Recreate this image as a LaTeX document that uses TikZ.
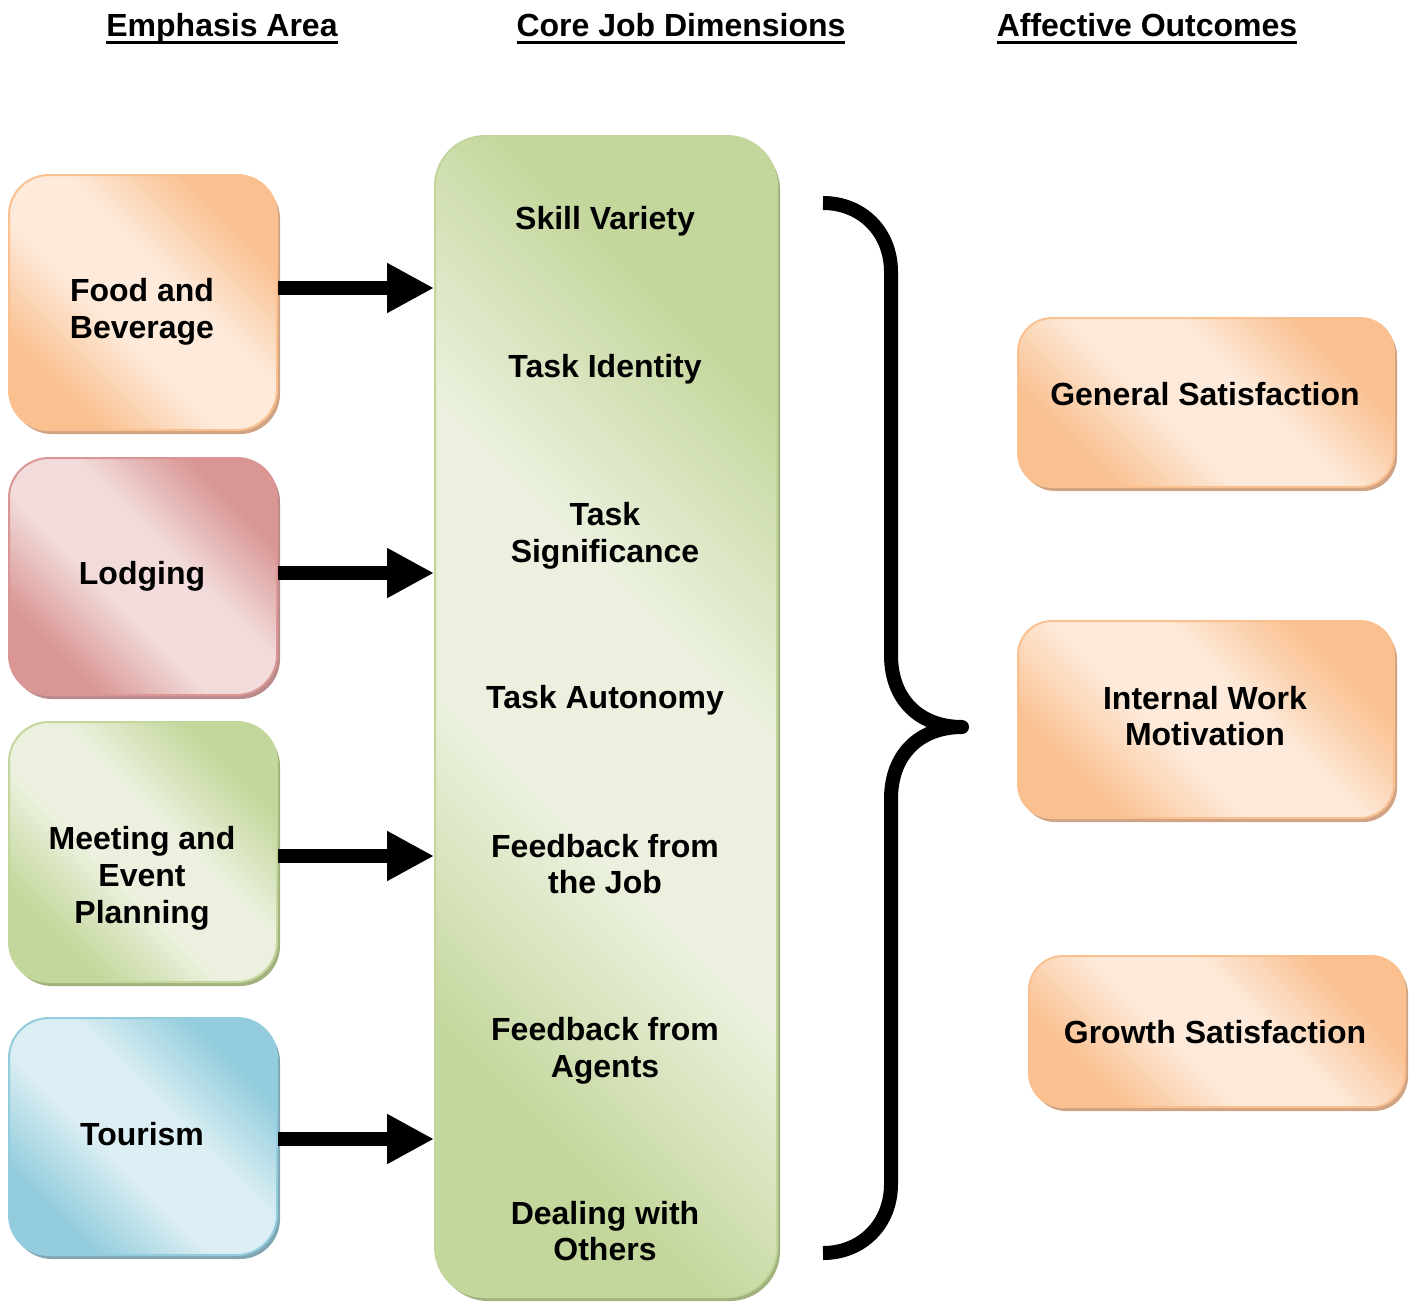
\documentclass[tikz,border=0pt]{standalone}
\usepackage{fontspec}
\setmainfont{Liberation Sans}
\usetikzlibrary{arrows.meta,shadows}
\definecolor{orD}{HTML}{FAC090}
\definecolor{orL}{HTML}{FDEADA}
\definecolor{orS}{HTML}{CFA383}
\definecolor{piD}{HTML}{D99694}
\definecolor{piL}{HTML}{F2DCDB}
\definecolor{piS}{HTML}{B98B8A}
\definecolor{grD}{HTML}{C3D69B}
\definecolor{grL}{HTML}{EBF1DE}
\definecolor{grS}{HTML}{A2B27F}
\definecolor{blD}{HTML}{93CDDD}
\definecolor{blL}{HTML}{DBEEF3}
\definecolor{blS}{HTML}{7FA6B1}
\pgfdeclarehorizontalshading{orshade}{100bp}{color(0bp)=(orD); color(27bp)=(orD); color(43bp)=(orL); color(57bp)=(orL); color(73bp)=(orD); color(100bp)=(orD)}
\pgfdeclarehorizontalshading{pishade}{100bp}{color(0bp)=(piD); color(27bp)=(piD); color(43bp)=(piL); color(57bp)=(piL); color(73bp)=(piD); color(100bp)=(piD)}
\pgfdeclarehorizontalshading{grshade}{100bp}{color(0bp)=(grD); color(27bp)=(grD); color(43bp)=(grL); color(57bp)=(grL); color(73bp)=(grD); color(100bp)=(grD)}
\pgfdeclarehorizontalshading{blshade}{100bp}{color(0bp)=(blD); color(27bp)=(blD); color(43bp)=(blL); color(57bp)=(blL); color(73bp)=(blD); color(100bp)=(blD)}
\newcommand\myul[1]{\setbox0\hbox{#1}\rlap{\rule[-3.8pt]{\wd0}{1.6pt}}\box0}
\tikzset{
  boxbase/.style={rectangle, line width=1pt, inner sep=0pt},
  orbox/.style={boxbase, draw=orD, shade, shading=orshade, shading angle=45,
     general shadow={fill=orS, shadow xshift=1.5pt, shadow yshift=-2pt}},
  pibox/.style={boxbase, draw=piD, shade, shading=pishade, shading angle=45,
     general shadow={fill=piS, shadow xshift=1.5pt, shadow yshift=-2pt}},
  grbox/.style={boxbase, draw=grD, shade, shading=grshade, shading angle=45,
     general shadow={fill=grS, shadow xshift=1.5pt, shadow yshift=-2pt}},
  blbox/.style={boxbase, draw=blD, shade, shading=blshade, shading angle=45,
     general shadow={fill=blS, shadow xshift=1.5pt, shadow yshift=-2pt}},
  lbl/.style={align=center, inner sep=0pt, font=\bfseries\fontsize{16}{18.4}\selectfont},
  head/.style={anchor=base, inner sep=0pt, font=\bfseries\fontsize{16}{18.4}\selectfont},
  bigarrow/.style={line width=7pt, -{Triangle[length=23.5pt, width=23.5pt]}},
  bracepath/.style={line width=7pt, line join=round, line cap=butt},
}
\begin{document}
\begin{tikzpicture}[x=0.5pt, y=-0.5pt]
\useasboundingbox (0,0) rectangle (1412,1301);
% headers
\node[head] (h1) at (222,36.7) {\myul{Emphasis Area}};
\node[head] (h2) at (681,36.7) {\myul{Core Job Dimensions}};
\node[head] (h3) at (1147,36.7) {\myul{Affective Outcomes}};
% left boxes
\node[orbox, rounded corners=20pt, minimum width=134pt, minimum height=127.5pt] (fb) at (143,302.5) {};
\node[pibox, rounded corners=20pt, minimum width=134pt, minimum height=118.5pt] (lod) at (143,576.5) {};
\node[grbox, rounded corners=20pt, minimum width=134pt, minimum height=130pt] (meet) at (143,852) {};
\node[blbox, rounded corners=20pt, minimum width=134pt, minimum height=118.5pt] (tour) at (143,1136.5) {};
\node[lbl] (t1) at (142,312) {Food and\\Beverage};
\node[lbl] (t2) at (142,576) {Lodging};
\node[lbl] (t3) at (142,878) {Meeting and\\Event\\Planning};
\node[lbl] (t4) at (142,1134) {Tourism};
% core box
\node[grbox, rounded corners=25pt, minimum width=171pt, minimum height=580.5pt] (core) at (606,716.5) {};
\node[lbl] (c1) at (605,221) {Skill Variety};
\node[lbl] (c2) at (605,369) {Task Identity};
\node[lbl] (c3) at (605,536) {Task\\Significance};
\node[lbl] (c4) at (605,700) {Task Autonomy};
\node[lbl] (c5) at (605,864) {Feedback from\\the Job};
\node[lbl] (c6) at (605,1051) {Feedback from\\Agents};
\node[lbl] (c7) at (605,1231) {Dealing with\\Others};
% right boxes
\node[orbox, rounded corners=17pt, minimum width=188pt, minimum height=84.5pt] (gs) at (1206,402.5) {};
\node[orbox, rounded corners=17pt, minimum width=188pt, minimum height=98.5pt] (iwm) at (1206,719.5) {};
\node[orbox, rounded corners=17pt, minimum width=188pt, minimum height=75.5pt] (grs) at (1217,1031.5) {};
\node[lbl] (r1) at (1205,394) {General Satisfaction};
\node[lbl] (r2) at (1205,716) {Internal Work\\Motivation};
\node[lbl] (r3) at (1215,1032) {Growth Satisfaction};
% arrows
\draw[bigarrow] (fb.east |- 0,288) -- (core.west |- 0,288);
\draw[bigarrow] (lod.east |- 0,573) -- (core.west |- 0,573);
\draw[bigarrow] (meet.east |- 0,856) -- (core.west |- 0,856);
\draw[bigarrow] (tour.east |- 0,1139) -- (core.west |- 0,1139);
% brace
\coordinate (btop) at (823,203);
\coordinate (btip) at (962,727);
\coordinate (bbot) at (823,1253);
\draw[bracepath] (btop) .. controls (862,203) and (891,232) .. (891,272)
   -- (891,655) .. controls (891,700) and (920,727) .. (btip)
   .. controls (920,727) and (891,754) .. (891,799)
   -- (891,1184) .. controls (891,1224) and (862,1253) .. (bbot);
\end{tikzpicture}
\end{document}
